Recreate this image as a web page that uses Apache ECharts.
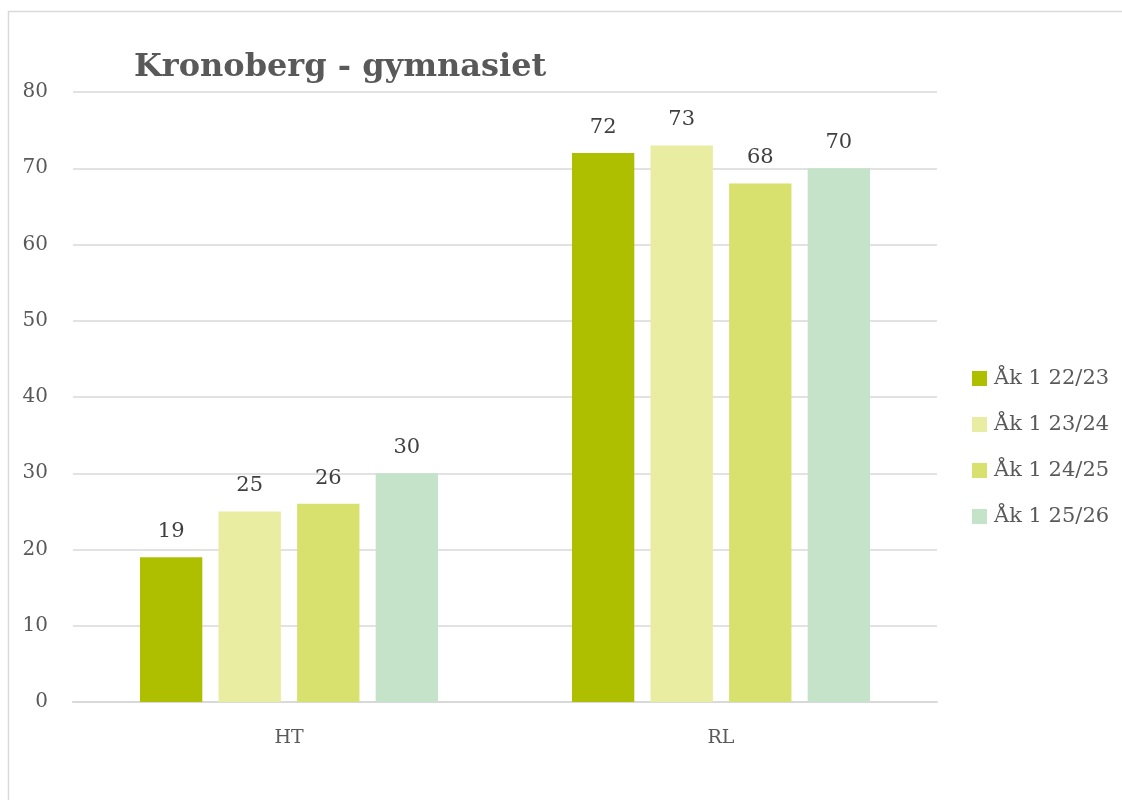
<!DOCTYPE html>
<html>
<head>
    <meta charset="utf-8" />
    <title>Kronoberg - gymnasiet</title>
    <script src="https://cdn.jsdelivr.net/npm/echarts@6/dist/echarts.min.js"></script>
    <style>
        html, body { margin: 0; padding: 0; background: #fff; }
    </style>
</head>
<body>
    <div id="chart" style="width:1122px;height:800px;"></div>
    <script>
        // data
        var categories = ['HT', 'RL'];
        var seriesNames = ['Åk 1 22/23', 'Åk 1 23/24', 'Åk 1 24/25', 'Åk 1 25/26'];
        var ak2223 = [19, 72];
        var ak2324 = [25, 73];
        var ak2425 = [26, 68];
        var ak2526 = [30, 70];
        var colors = ['#AEBF00', '#E9EDA1', '#D8E06E', '#C4E3C8'];

        var font = '"DejaVu Serif", "Liberation Serif", serif';
        var values = [ak2223, ak2324, ak2425, ak2526];

        var series = seriesNames.map( function ( name, i )
        {
            return {
                name: name,
                type: 'bar',
                data: values[i],
                barGap: '26%',
                barCategoryGap: '31%',
                itemStyle: { color: colors[i] },
                label: {
                    show: true,
                    position: 'top',
                    distance: 15,
                    color: '#404040',
                    fontFamily: font,
                    fontSize: 21
                }
            };
        } );

        var myChart = echarts.init( document.getElementById( 'chart' ) );
        myChart.setOption( {
            animation: false,
            color: colors,
            graphic: [{
                type: 'rect',
                shape: { x: 8.5, y: 11.5, width: 1200, height: 900 },
                style: { fill: 'none', stroke: '#d9d9d9', lineWidth: 1.5 },
                silent: true
            }],
            title: {
                text: 'Kronoberg - gymnasiet',
                left: 129,
                top: 47,
                textStyle: {
                    fontFamily: font,
                    fontWeight: 'bold',
                    fontSize: 32,
                    color: '#595959'
                }
            },
            legend: {
                orient: 'vertical',
                left: 967,
                top: 363,
                itemWidth: 15,
                itemHeight: 15,
                itemGap: 25,
                icon: 'rect',
                textStyle: {
                    fontFamily: font,
                    fontSize: 21,
                    color: '#595959',
                    padding: [0, 0, 0, 2]
                },
                data: seriesNames
            },
            grid: {
                left: 73,
                right: 185,
                top: 92,
                bottom: 98,
                containLabel: false
            },
            xAxis: {
                type: 'category',
                data: categories,
                axisTick: { show: false },
                axisLine: { lineStyle: { color: '#d9d9d9', width: 2 } },
                axisLabel: {
                    margin: 27,
                    fontFamily: font,
                    fontSize: 19,
                    color: '#595959'
                }
            },
            yAxis: {
                type: 'value',
                min: 0,
                max: 80,
                interval: 10,
                axisLine: { show: false },
                axisTick: { show: false },
                splitLine: { lineStyle: { color: '#d9d9d9', width: 1.5 } },
                axisLabel: {
                    margin: 25,
                    fontFamily: font,
                    fontSize: 20,
                    color: '#595959'
                }
            },
            series: series
        } );
    </script>
</body>
</html>
